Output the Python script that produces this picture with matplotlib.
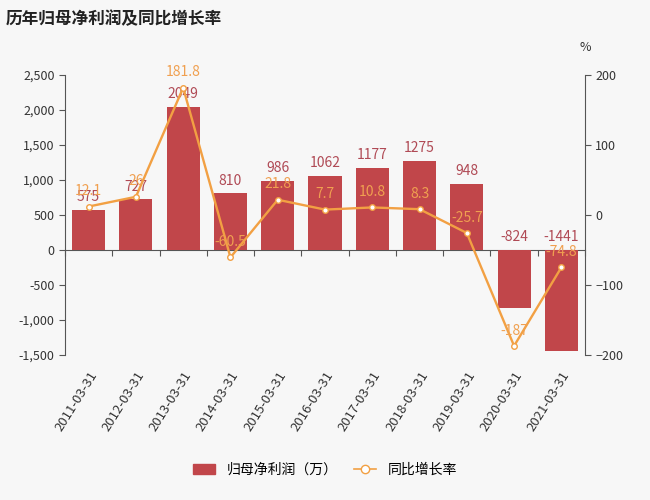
import matplotlib.pyplot as plt
from matplotlib.ticker import FuncFormatter
from matplotlib.lines import Line2D
from matplotlib.patches import Patch

plt.rcParams['font.family'] = ['Noto Sans CJK SC', 'DejaVu Sans']

dates = ['2011-03-31', '2012-03-31', '2013-03-31', '2014-03-31', '2015-03-31', '2016-03-31',
         '2017-03-31', '2018-03-31', '2019-03-31', '2020-03-31', '2021-03-31']
profit = [575, 727, 2049, 810, 986, 1062, 1177, 1275, 948, -824, -1441]
growth = [12.1, 26, 181.8, -60.5, 21.8, 7.7, 10.8, 8.3, -25.7, -187, -74.8]

bg = '#f7f7f7'
bar_color = '#c1464a'
line_color = '#f2a043'
axis_color = '#555555'

fig = plt.figure(figsize=(6.5, 5), dpi=100, facecolor=bg)
ax = fig.add_axes([0.1, 0.29, 0.8, 0.56], facecolor=bg)
ax2 = ax.twinx()

x = list(range(len(dates)))
ax.bar(x, profit, width=0.7, color=bar_color, zorder=2)
ax.set_xlim(-0.5, len(dates) - 0.5)
ax.set_ylim(-1500, 2500)
ax.set_yticks(range(-1500, 2501, 500))
ax.yaxis.set_major_formatter(FuncFormatter(lambda v, p: f'{int(v):,}'))

for xi, v in zip(x, profit):
    ax.annotate(str(v), (xi, max(v, 0)), xytext=(0, 4), textcoords='offset points',
                ha='center', va='bottom', fontsize=10, color='#b04a55', zorder=5)

ax2.plot(x, growth, color=line_color, lw=1.7, marker='o', ms=4,
         mfc='white', mec=line_color, mew=1, zorder=4)
ax2.set_ylim(-200, 200)
ax2.set_yticks(range(-200, 201, 100))
for xi, v in zip(x, growth):
    ax2.annotate(f'{v:g}', (xi, v), xytext=(0, 6), textcoords='offset points',
                 ha='center', va='bottom', fontsize=10, color='#f0a050', zorder=5)

# x labels at bottom, tick marks along the zero line
ax.set_xticks(x)
ax.set_xticklabels(dates, rotation=58, ha='right', rotation_mode='anchor', fontsize=9.5, color='#333333')
ax.tick_params(axis='x', length=0, pad=10)
zero = ax.secondary_xaxis(1500 / 4000)
zero.set_xticks([i - 0.5 for i in range(len(dates) + 1)])
zero.set_xticklabels([])
zero.tick_params(axis='x', direction='out', length=4, color=axis_color)
zero.spines['bottom'].set_color(axis_color)

for a in (ax, ax2):
    for s in ('top', 'bottom'):
        a.spines[s].set_visible(False)
ax.spines['right'].set_visible(False)
ax2.spines['left'].set_visible(False)
ax.spines['left'].set_color(axis_color)
ax2.spines['right'].set_color(axis_color)
ax.tick_params(axis='y', labelsize=9, colors='#333333', color=axis_color, length=4)
ax2.tick_params(axis='y', labelsize=9, colors='#333333', color=axis_color, length=4)

fig.text(0.008, 0.962, '历年归母净利润及同比增长率', fontsize=12, fontweight='bold',
         color='#222222', va='center')
fig.text(0.9, 0.905, '%', fontsize=9, color='#333333', ha='center', va='center')

handles = [Patch(facecolor=bar_color, edgecolor=bar_color),
           Line2D([0], [0], color=line_color, lw=1.2, marker='o', ms=6, mfc='white', mec=line_color)]
fig.legend(handles, ['归母净利润（万）', '同比增长率'], loc='center', bbox_to_anchor=(0.5, 0.06),
           ncol=2, frameon=False, fontsize=10, handlelength=1.6, columnspacing=1.2)

fig.savefig('out.png', dpi=100, facecolor=bg)
